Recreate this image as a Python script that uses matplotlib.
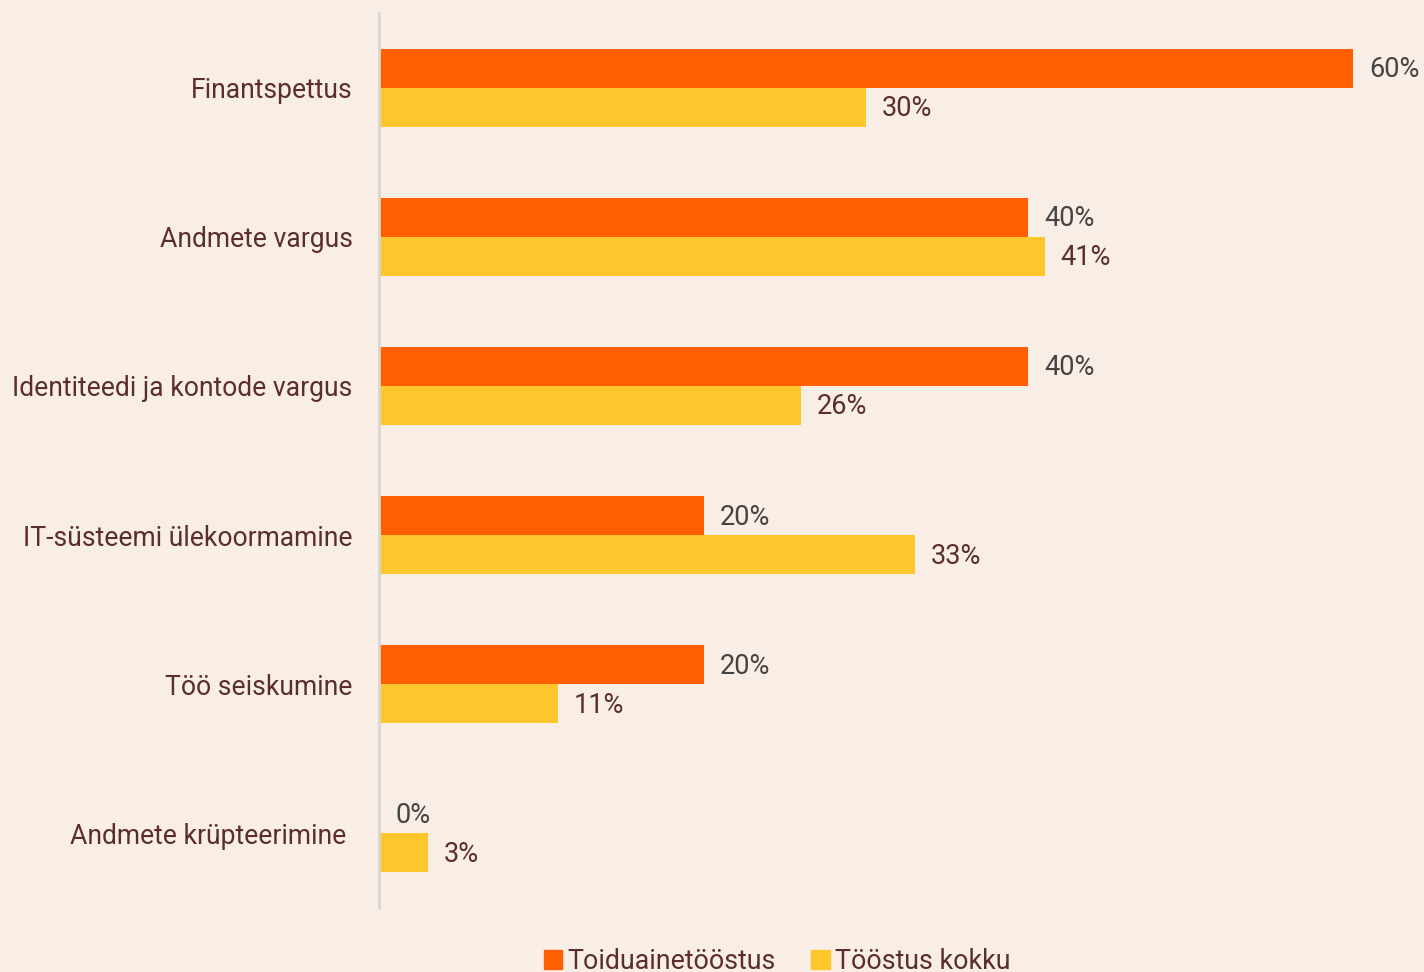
import numpy as np
import matplotlib
matplotlib.use('Agg')
import matplotlib.pyplot as plt
from matplotlib.patches import Patch

plt.rcParams['font.family'] = ['Roboto', 'DejaVu Sans']

categories = ['Finantspettus', 'Andmete vargus', 'Identiteedi ja kontode vargus',
              'IT-süsteemi ülekoormamine', 'Töö seiskumine', 'Andmete krüpteerimine ']
toiduaine = [60, 40, 40, 20, 20, 0]
kokku = [30, 41, 26, 33, 11, 3]
series_names = ['Toiduainetööstus', 'Tööstus kokku']

bg = '#f8eee5'
c_orange = '#ff5f00'
c_yellow = '#fec62d'
label_col = '#5b2d2d'
grey_col = '#444444'

W, H = 1424, 972
fig = plt.figure(figsize=(W / 100, H / 100), dpi=100, facecolor=bg)
ax = fig.add_axes([379 / W, 1 - 908 / H, (W - 379) / W, (908 - 13) / H])
ax.set_facecolor(bg)

y = np.arange(len(categories))
h = 39 / 149.2
ax.barh(y - h / 2, toiduaine, height=h, color=c_orange)
ax.barh(y + h / 2, kokku, height=h, color=c_yellow)

px = 60 / (1353 - 379)  # data units per pixel
ax.set_xlim(0, (W - 379) * px)
ax.set_ylim(len(categories) - 0.5, -0.5)

for i, v in enumerate(toiduaine):
    ax.text(v + 16 * px, y[i] - h / 2 + 0.01, f'{v}%', va='center', ha='left',
            fontsize=19.5, color=grey_col)
for i, v in enumerate(kokku):
    ax.text(v + 16 * px, y[i] + h / 2 + 0.01, f'{v}%', va='center', ha='left',
            fontsize=19.5, color=label_col)

ax.set_yticks(y)
ax.set_yticklabels(categories, fontsize=19.1, color=label_col)
ax.tick_params(axis='y', length=0, pad=19)
ax.set_xticks([])
for s in ['top', 'right', 'bottom']:
    ax.spines[s].set_visible(False)
ax.spines['left'].set_color('#d9d6d2')
ax.spines['left'].set_linewidth(2)

handles = [Patch(color=c_orange), Patch(color=c_yellow)]
fig.legend(handles, series_names, loc='center', bbox_to_anchor=(777 / W, 1 - 961 / H),
           ncol=2, frameon=False, fontsize=19.3, labelcolor=label_col,
           handlelength=0.7, handleheight=0.7, handletextpad=0.2, columnspacing=1.3)

fig.savefig('out.png', dpi=100, facecolor=bg)
